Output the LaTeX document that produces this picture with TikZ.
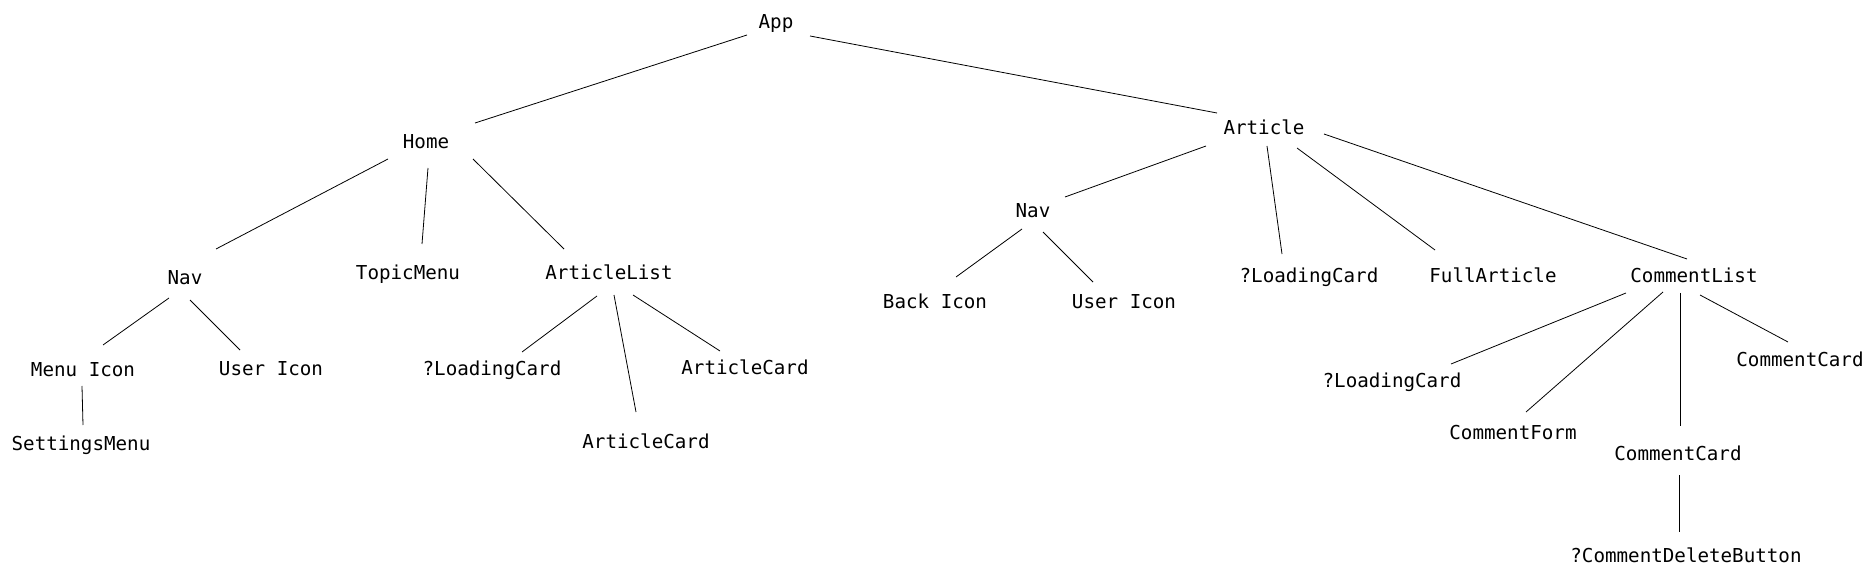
\documentclass[tikz,border=0pt]{standalone}
\usepackage{fontspec}
\setmonofont{DejaVu Sans Mono}
\usepackage{xcolor}

\begin{document}
\begin{tikzpicture}[x=0.5pt,y=0.5pt]
\tikzstyle{every node}+=[inner sep=0pt, font=\ttfamily\fontsize{9.6}{11.5}\selectfont, text height=7pt, text depth=0pt]
\useasboundingbox (0,0) rectangle (1875,-577);
\node (app) at (776,-22) {App};
\node (home) at (426,-142) {Home};
\node (art) at (1264,-128) {Article};
\node (hnav) at (185,-278) {Nav};
\node (topic) at (408,-273) {TopicMenu};
\node (alist) at (609,-273) {ArticleList};
\node (menuicon) at (83,-370) {Menu Icon};
\node (huser) at (271,-369) {User Icon};
\node (settings) at (81,-444) {SettingsMenu};
\node (hload) at (492,-369) {?LoadingCard};
\node (acardr) at (745,-368) {ArticleCard};
\node (acardb) at (646,-441) {ArticleCard};
\node (anav) at (1033,-211) {Nav};
\node (back) at (935,-302) {Back Icon};
\node (auser) at (1124,-302) {User Icon};
\node (aload) at (1309,-276) {?LoadingCard};
\node (full) at (1493,-276) {FullArticle};
\node (clist) at (1694,-276) {CommentList};
\node (cload) at (1392,-380) {?LoadingCard};
\node (cform) at (1513,-432) {CommentForm};
\node (ccard) at (1678,-453) {CommentCard};
\node (ccardr) at (1800,-359) {CommentCard};
\node (cdelete) at (1686,-555) {?CommentDeleteButton};
\draw [black] ([shift={(-29,-13)}]app.center) -- ([shift={(49,19)}]home.center);
\draw [black] ([shift={(34,-14)}]app.center) -- ([shift={(-47,15)}]art.center);
\draw [black] ([shift={(-38,-17)}]home.center) -- ([shift={(31,29)}]hnav.center);
\draw [black] ([shift={(2,-26)}]home.center) -- ([shift={(14,29)}]topic.center);
\draw [black] ([shift={(47,-17)}]home.center) -- ([shift={(-45,24)}]alist.center);
\draw [black] ([shift={(-16,-20)}]hnav.center) -- ([shift={(20,25)}]menuicon.center);
\draw [black] ([shift={(5,-22)}]hnav.center) -- ([shift={(-31,19)}]huser.center);
\draw [black] ([shift={(-1,-16)}]menuicon.center) -- ([shift={(2,19)}]settings.center);
\draw [black] ([shift={(-12,-23)}]alist.center) -- ([shift={(30,17)}]hload.center);
\draw [black] ([shift={(5,-22)}]alist.center) -- ([shift={(-10,29)}]acardb.center);
\draw [black] ([shift={(24,-22)}]alist.center) -- ([shift={(-25,17)}]acardr.center);
\draw [black] ([shift={(-58,-18)}]art.center) -- ([shift={(32,14)}]anav.center);
\draw [black] ([shift={(3,-18)}]art.center) -- ([shift={(-27,22)}]aload.center);
\draw [black] ([shift={(33,-20)}]art.center) -- ([shift={(-58,26)}]full.center);
\draw [black] ([shift={(60,-6)}]art.center) -- ([shift={(-7,17)}]clist.center);
\draw [black] ([shift={(-11,-18)}]anav.center) -- ([shift={(21,25)}]back.center);
\draw [black] ([shift={(10,-21)}]anav.center) -- ([shift={(-31,20)}]auser.center);
\draw [black] ([shift={(-68,-17)}]clist.center) -- ([shift={(59,16)}]cload.center);
\draw [black] ([shift={(-31,-16)}]clist.center) -- ([shift={(13,20)}]cform.center);
\draw [black] ([shift={(-14,-17)}]clist.center) -- ([shift={(2,27)}]ccard.center);
\draw [black] ([shift={(6,-19)}]clist.center) -- ([shift={(-12,17)}]ccardr.center);
\draw [black] ([shift={(1,-22)}]ccard.center) -- ([shift={(-7,23)}]cdelete.center);
\end{tikzpicture}
\end{document}
